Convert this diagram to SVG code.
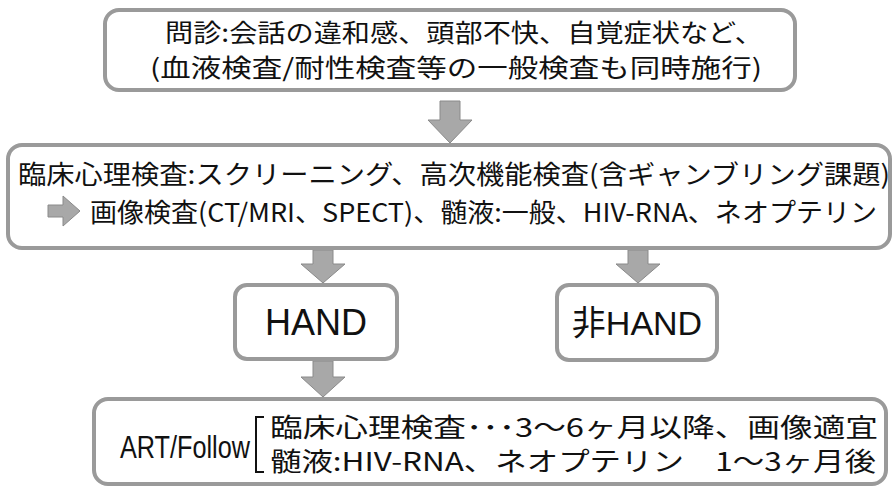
<svg xmlns="http://www.w3.org/2000/svg" width="893" height="488" viewBox="0 0 893 488">
<style>
.box{fill:#fff;stroke:#9a9a9a;stroke-width:4}
.arr{fill:#a8a8a8;stroke:#8a8a8a;stroke-width:1}
.jp{font-family:"Noto Sans CJK JP","Noto Sans",sans-serif;fill:#111}
.lat{font-family:"Liberation Sans",Arial,sans-serif;fill:#111}
</style>
<rect width="893" height="488" fill="#fff"/>
<g id="connectors">
<path class="arr" d="M440 101 H460 V120 H472 L450 143 L428 120 H440 Z"/>
<path class="arr" d="M313 250 H333 V264 H345 L323 283 L301 264 H313 Z"/>
<path class="arr" d="M628 250 H648 V264 H660 L638 283 L616 264 H628 Z"/>
<path class="arr" d="M313 361 H333 V377 H345 L323 397 L301 377 H313 Z"/>
</g>
<g id="node-interview">
<rect class="box" x="105" y="10" width="690" height="80" rx="14"/>
<text class="jp" x="165" y="42" font-size="25" textLength="598" lengthAdjust="spacingAndGlyphs">問診:会話の違和感、頭部不快、自覚症状など、</text>
<text class="jp" x="150" y="77" font-size="25" textLength="612" lengthAdjust="spacingAndGlyphs">(血液検査/耐性検査等の一般検査も同時施行)</text>
</g>
<g id="node-tests">
<rect class="box" x="8" y="145" width="882" height="103" rx="14"/>
<text class="jp" x="18" y="184" font-size="26" textLength="872" lengthAdjust="spacingAndGlyphs">臨床心理検査:スクリーニング、高次機能検査(含ギャンブリング課題)</text>
<path class="arr" d="M48 205 H63 V196 L80 211 L63 226 V217 H48 Z"/>
<text class="jp" x="90" y="222" font-size="26" textLength="787" lengthAdjust="spacingAndGlyphs">画像検査(CT/MRI、SPECT)、髄液:一般、HIV-RNA、ネオプテリン</text>
</g>
<g id="node-hand">
<rect class="box" x="235" y="285" width="162" height="74" rx="12"/>
<text class="lat" x="316" y="335" font-size="36" text-anchor="middle">HAND</text>
</g>
<g id="node-nonhand">
<rect class="box" x="557" y="285" width="160" height="75" rx="12"/>
<text class="jp" x="637" y="335" font-size="34" text-anchor="middle">非<tspan class="lat">HAND</tspan></text>
</g>
<g id="node-follow">
<rect class="box" x="94" y="399" width="792" height="85" rx="14"/>
<text class="lat" x="120" y="458" font-size="31" textLength="130" lengthAdjust="spacingAndGlyphs">ART/Follow</text>
<path d="M264 417 H256 V472 H264" fill="none" stroke="#111" stroke-width="2"/>
<text class="jp" x="270" y="437" font-size="26" textLength="608" lengthAdjust="spacingAndGlyphs">臨床心理検査･･･3〜6ヶ月以降、画像適宜</text>
<text class="jp" x="270" y="471" font-size="26" textLength="606" lengthAdjust="spacingAndGlyphs">髄液:HIV-RNA、ネオプテリン　1〜3ヶ月後</text>
</g>
</svg>
